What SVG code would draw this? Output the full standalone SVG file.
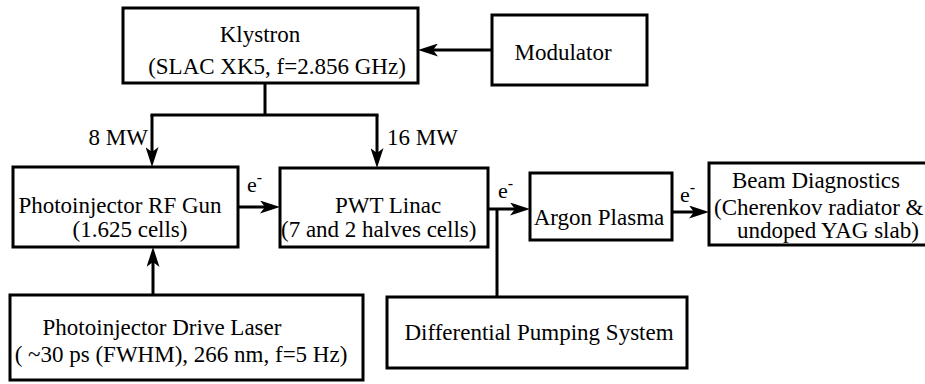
<svg xmlns="http://www.w3.org/2000/svg" width="925" height="384" viewBox="0 0 925 384" font-family="'Liberation Serif', 'DejaVu Serif', serif">
<defs>
<style>
.box{fill:#fff;stroke:#000;stroke-width:3}
.ln{fill:none;stroke:#000;stroke-width:3}
.arr{fill:none;stroke:#000;stroke-width:3;marker-end:url(#ah)}
.t{font-family:'Liberation Serif','DejaVu Serif',serif;font-size:23px;fill:#000}
.c{text-anchor:middle}
.e{font-size:22px}
</style>
<marker id="ah" viewBox="0 0 20 13" refX="12" refY="6.5" markerWidth="20" markerHeight="13" orient="auto" markerUnits="userSpaceOnUse">
<path d="M0,0 L20,6.5 L0,13 L5,6.5 z" fill="#000"/>
</marker>
</defs>
<rect width="925" height="384" fill="#fff"/>
<g id="connectors">
<line class="arr" x1="492" y1="50" x2="426" y2="50"/>
<polyline class="ln" points="265,83 265,115"/>
<polyline class="ln" points="150.5,115 378.5,115"/>
<line class="arr" x1="152" y1="115" x2="152" y2="159"/>
<line class="arr" x1="377" y1="115" x2="377" y2="160"/>
<line class="arr" x1="238" y1="207" x2="272" y2="207"/>
<line class="arr" x1="153" y1="295" x2="153" y2="255"/>
<line class="arr" x1="488" y1="209" x2="522" y2="209"/>
<line class="ln" x1="497" y1="209" x2="497" y2="297"/>
<line class="arr" x1="672" y1="212" x2="701" y2="212"/>
</g>
<g id="labels">
<text class="t" x="148" y="145" text-anchor="end">8 MW</text>
<text class="t" x="387" y="145">16 MW</text>
<text class="t e" x="247" y="192">e<tspan dy="-9" font-size="16">-</tspan></text>
<text class="t e" x="498" y="198">e<tspan dy="-9" font-size="16">-</tspan></text>
<text class="t e" x="680" y="202">e<tspan dy="-9" font-size="16">-</tspan></text>
</g>
<g id="klystron">
<rect class="box" x="123" y="8" width="295" height="75"/>
<text class="t c" x="260" y="42">Klystron</text>
<text class="t c" x="277" y="74">(SLAC XK5, f=2.856 GHz)</text>
</g>
<g id="modulator">
<rect class="box" x="492" y="15" width="155" height="70"/>
<text class="t c" x="563" y="60">Modulator</text>
</g>
<g id="rfgun">
<rect class="box" x="13" y="167" width="225" height="80"/>
<text class="t c" x="120" y="213">Photoinjector RF Gun</text>
<text class="t c" x="130" y="237">(1.625 cells)</text>
</g>
<g id="linac">
<rect class="box" x="280" y="168" width="208" height="79"/>
<text class="t c" x="388" y="213">PWT Linac</text>
<text class="t" x="281" y="237">(7 and 2 halves cells)</text>
</g>
<g id="argon">
<rect class="box" x="530" y="173" width="142" height="67"/>
<text class="t c" x="599" y="225">Argon Plasma</text>
</g>
<g id="diagnostics">
<rect class="box" x="709" y="163" width="230" height="82"/>
<text class="t c" x="816" y="188">Beam Diagnostics</text>
<text class="t" x="714" y="215">(Cherenkov radiator &amp;</text>
<text class="t" x="737" y="238">undoped YAG slab)</text>
</g>
<g id="laser">
<rect class="box" x="10" y="295" width="353" height="85"/>
<text class="t c" x="162" y="335">Photoinjector Drive Laser</text>
<text class="t c" x="181" y="362">( ~30 ps (FWHM), 266 nm, f=5 Hz)</text>
</g>
<g id="pumping">
<rect class="box" x="387" y="297" width="300" height="71"/>
<text class="t c" x="539" y="340">Differential Pumping System</text>
</g>
</svg>
